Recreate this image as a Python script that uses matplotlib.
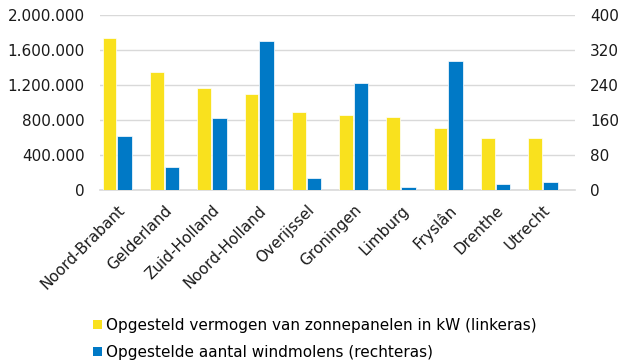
import matplotlib
matplotlib.use("Agg")
import matplotlib.pyplot as plt
import numpy as np
from matplotlib.ticker import FuncFormatter
from matplotlib.patches import Patch

provinces = ["Noord-Brabant", "Gelderland", "Zuid-Holland", "Noord-Holland", "Overijssel",
             "Groningen", "Limburg", "Fryslân", "Drenthe", "Utrecht"]
solar_kw = [1735000, 1345000, 1166000, 1101000, 891000, 853000, 834000, 705000, 590000, 590000]
windmills = [123, 52, 165, 341, 27, 244, 6, 294, 14, 18]

left_ticks = [0, 400000, 800000, 1200000, 1600000, 2000000]
right_ticks = [0, 80, 160, 240, 320, 400]

label_solar = "Opgesteld vermogen van zonnepanelen in kW (linkeras)"
label_wind = "Opgestelde aantal windmolens (rechteras)"

yellow = "#F9E11E"
blue = "#0079C6"
grid_col = "#D9D9D9"

plt.rcParams["font.family"] = ["DejaVu Sans"]

fig = plt.figure(figsize=(6.21, 3.62), dpi=100)
ax = fig.add_axes([100 / 621, 1 - 190 / 362, 475 / 621, 175 / 362])
ax2 = ax.twinx()

x = np.arange(len(provinces))
w = 0.29
ax.bar(x - w / 2 - 0.015, solar_kw, width=w, color=yellow, edgecolor="white", linewidth=0.5, zorder=3)
ax2.bar(x + w / 2 + 0.015, windmills, width=w + 0.02, color=blue, edgecolor="white", linewidth=0.5, zorder=3)

ax.set_xlim(-0.36, 9.68)
ax.set_ylim(0, 2000000)
ax2.set_ylim(0, 400)
ax.set_yticks(left_ticks)
ax2.set_yticks(right_ticks)
ax.yaxis.set_major_formatter(FuncFormatter(lambda v, p: f"{int(v):,}".replace(",", ".")))

ax.grid(axis="y", color=grid_col, linewidth=1.0, zorder=0)
ax.set_axisbelow(True)
for a in (ax, ax2):
    for s in a.spines.values():
        s.set_visible(False)
    a.tick_params(axis="both", length=0, labelsize=11, colors="#1a1a1a", pad=11)
ax.spines["bottom"].set_visible(True)
ax.spines["bottom"].set_color(grid_col)
ax.spines["bottom"].set_linewidth(1.2)

ax.set_xticks(x)
ax.set_xticklabels(provinces, rotation=45, ha="right", rotation_mode="anchor", fontsize=11)
ax.tick_params(axis="x", pad=9)

handles = [Patch(facecolor=yellow, edgecolor="none"), Patch(facecolor=blue, edgecolor="none")]
fig.legend(handles, [label_solar, label_wind], loc="lower left",
           bbox_to_anchor=(84 / 621, -0.02), frameon=False, fontsize=11,
           handlelength=0.55, handleheight=0.55, handletextpad=0.3, labelspacing=0.8,
           borderaxespad=0.2)

fig.savefig("out.png", dpi=100)
